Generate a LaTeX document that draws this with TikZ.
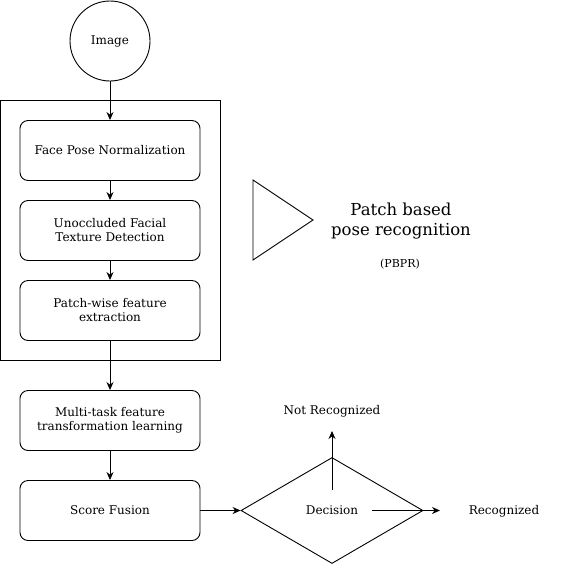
\documentclass[tikz,border=0pt]{standalone}
\usepackage{fontspec}
\setmainfont{DejaVu Serif}
\usetikzlibrary{arrows.meta,shapes.geometric}
\begin{document}
\begin{tikzpicture}[x=1pt,y=-1pt,line width=0.9pt,
    box/.style={draw,rounded corners=8pt,minimum width=180pt,minimum height=60pt,align=center,font=\fontsize{12}{14}\selectfont},
    arr/.style={-{Stealth[length=8pt,width=7pt]}},
    lbl/.style={font=\fontsize{12}{14}\selectfont}]
            \useasboundingbox (0,0) rectangle (568,566);
            \draw (0.5,100) rectangle (220,360);
            \node [draw,circle,minimum size=80pt,lbl] (img) at (110,41) {Image};
            \node [box] (fpn) at (110,150.5) {Face Pose Normalization};
            \node [box] (ufd) at (110,230.5) {Unoccluded Facial\\Texture Detection};
            \node [box] (pfe) at (110,310.5) {Patch-wise feature\\extraction};
            \node [box] (mtl) at (110,420.5) {Multi-task feature\\transformation learning};
            \node [box] (sf) at (110,510.5) {Score Fusion};
            \node [draw,diamond,aspect=1.72,minimum width=182pt,minimum height=106pt,inner sep=0pt,lbl] (dec) at (332,510.5) {Decision};
            \node [lbl] (nr) at (332,411) {Not Recognized};
            \node [lbl] (rec) at (504,511) {Recognized};
            \draw (253,180) -- (253,260) -- (313,220) -- cycle;
            \node [align=center,font=\fontsize{16.5}{20}\selectfont] (pbpr) at (401,221) {Patch based\\pose recognition};
            \node [font=\fontsize{11}{13}\selectfont] (abbr) at (400,264) {(PBPR)};
            \coordinate (up) at (332,490);
            \coordinate (nrtip) at (332,431);
            \coordinate (rs) at (372,510.5);
            \coordinate (rtip) at (440,510.5);
            \draw [arr] (img) -- (fpn);
            \draw [arr] (fpn) -- (ufd);
            \draw [arr] (ufd) -- (pfe);
            \draw [arr] (pfe) -- (mtl);
            \draw [arr] (mtl) -- (sf);
            \draw [arr] (sf.east) -- (dec.west);
            \draw [arr] (up) -- (nrtip);
            \draw [arr] (rs) -- (rtip);
        \end{tikzpicture}
\end{document}
